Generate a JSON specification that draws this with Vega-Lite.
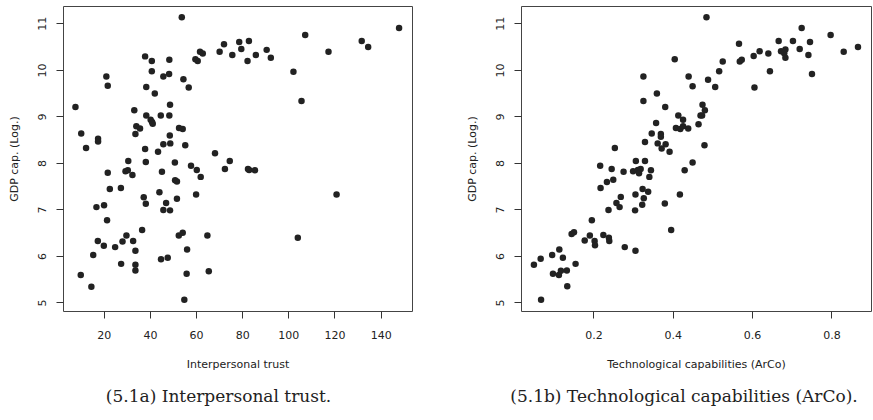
{
  "$schema": "https://vega.github.io/schema/vega-lite/v6.json",
  "background": "white",
  "padding": {"left": 7, "top": 5, "right": 3, "bottom": 0},
  "bounds": "flush",
  "spacing": 109,
  "config": {
    "view": {"stroke": "#444", "strokeWidth": 1},
    "axis": {"grid": false, "domain": false, "tickSize": 7, "tickColor": "#333", "tickWidth": 1,
      "labelFont": "DejaVu Sans", "labelFontSize": 11, "labelColor": "#222", "labelFlush": false, "labelOverlap": false,
      "titleFont": "DejaVu Sans", "titleFontSize": 11, "titleFontWeight": "normal", "titleColor": "#222"},
    "title": {"font": "DejaVu Serif", "fontSize": 17, "fontWeight": "normal", "color": "#222"}
  },
  "datasets": {
    "trust": [
      {"trust": 7.7, "gdp": 9.20}, {"trust": 10.2, "gdp": 8.63}, {"trust": 12.3, "gdp": 8.32}, {"trust": 17.5, "gdp": 8.52},
      {"trust": 17.5, "gdp": 8.46}, {"trust": 21.1, "gdp": 9.86}, {"trust": 21.7, "gdp": 9.66}, {"trust": 30.6, "gdp": 8.04},
      {"trust": 37.9, "gdp": 10.29}, {"trust": 40.8, "gdp": 10.19}, {"trust": 40.8, "gdp": 9.97}, {"trust": 38.4, "gdp": 9.63},
      {"trust": 42.1, "gdp": 9.49}, {"trust": 33.2, "gdp": 9.13}, {"trust": 38.4, "gdp": 9.02}, {"trust": 40.3, "gdp": 8.93},
      {"trust": 40.9, "gdp": 8.88}, {"trust": 41.2, "gdp": 8.84}, {"trust": 44.7, "gdp": 9.02}, {"trust": 48.4, "gdp": 9.02},
      {"trust": 48.7, "gdp": 9.25}, {"trust": 48.4, "gdp": 10.22}, {"trust": 48.3, "gdp": 9.91}, {"trust": 45.8, "gdp": 9.86},
      {"trust": 53.8, "gdp": 11.13}, {"trust": 54.5, "gdp": 9.80}, {"trust": 56.8, "gdp": 9.62}, {"trust": 34.1, "gdp": 8.79},
      {"trust": 35.7, "gdp": 8.74}, {"trust": 33.7, "gdp": 8.62}, {"trust": 37.9, "gdp": 8.30}, {"trust": 43.5, "gdp": 8.24},
      {"trust": 45.8, "gdp": 8.40}, {"trust": 48.6, "gdp": 8.59}, {"trust": 48.8, "gdp": 8.42}, {"trust": 52.6, "gdp": 8.75},
      {"trust": 54.2, "gdp": 8.73}, {"trust": 55.3, "gdp": 8.38}, {"trust": 59.7, "gdp": 10.23}, {"trust": 60.7, "gdp": 10.19},
      {"trust": 61.7, "gdp": 10.39}, {"trust": 62.9, "gdp": 10.35}, {"trust": 70.2, "gdp": 10.39}, {"trust": 72.1, "gdp": 10.55},
      {"trust": 75.7, "gdp": 10.32}, {"trust": 78.7, "gdp": 10.60}, {"trust": 79.6, "gdp": 10.45}, {"trust": 82.9, "gdp": 10.62},
      {"trust": 82.3, "gdp": 10.19}, {"trust": 85.9, "gdp": 10.32}, {"trust": 90.6, "gdp": 10.43}, {"trust": 92.4, "gdp": 10.26},
      {"trust": 102.2, "gdp": 9.96}, {"trust": 105.7, "gdp": 9.33}, {"trust": 107.3, "gdp": 10.75}, {"trust": 117.4, "gdp": 10.39},
      {"trust": 131.8, "gdp": 10.62}, {"trust": 134.6, "gdp": 10.49}, {"trust": 148.0, "gdp": 10.90}, {"trust": 68.2, "gdp": 8.21},
      {"trust": 74.6, "gdp": 8.04}, {"trust": 38.2, "gdp": 8.02}, {"trust": 50.8, "gdp": 8.01}, {"trust": 57.8, "gdp": 7.94},
      {"trust": 60.3, "gdp": 7.85}, {"trust": 62.0, "gdp": 7.70}, {"trust": 72.5, "gdp": 7.87}, {"trust": 82.5, "gdp": 7.87},
      {"trust": 83.0, "gdp": 7.85}, {"trust": 85.5, "gdp": 7.84}, {"trust": 21.7, "gdp": 7.79}, {"trust": 29.4, "gdp": 7.82},
      {"trust": 30.4, "gdp": 7.84}, {"trust": 32.4, "gdp": 7.74}, {"trust": 45.2, "gdp": 7.81}, {"trust": 50.9, "gdp": 7.63},
      {"trust": 51.7, "gdp": 7.60}, {"trust": 22.6, "gdp": 7.44}, {"trust": 27.4, "gdp": 7.46}, {"trust": 44.1, "gdp": 7.37},
      {"trust": 60.0, "gdp": 7.32}, {"trust": 120.9, "gdp": 7.32}, {"trust": 37.3, "gdp": 7.26}, {"trust": 38.2, "gdp": 7.12},
      {"trust": 51.7, "gdp": 7.23}, {"trust": 47.0, "gdp": 7.14}, {"trust": 45.8, "gdp": 6.99}, {"trust": 48.7, "gdp": 6.98},
      {"trust": 16.8, "gdp": 7.05}, {"trust": 20.1, "gdp": 7.09}, {"trust": 21.4, "gdp": 6.77}, {"trust": 36.6, "gdp": 6.56},
      {"trust": 17.4, "gdp": 6.32}, {"trust": 20.0, "gdp": 6.22}, {"trust": 24.9, "gdp": 6.19}, {"trust": 29.8, "gdp": 6.44},
      {"trust": 28.1, "gdp": 6.31}, {"trust": 32.7, "gdp": 6.32}, {"trust": 33.7, "gdp": 6.11}, {"trust": 15.4, "gdp": 6.02},
      {"trust": 27.5, "gdp": 5.83}, {"trust": 33.7, "gdp": 5.81}, {"trust": 33.7, "gdp": 5.69}, {"trust": 10.0, "gdp": 5.59},
      {"trust": 14.6, "gdp": 5.34}, {"trust": 44.8, "gdp": 5.93}, {"trust": 47.7, "gdp": 5.96}, {"trust": 52.5, "gdp": 6.44},
      {"trust": 54.2, "gdp": 6.50}, {"trust": 56.1, "gdp": 6.14}, {"trust": 55.9, "gdp": 5.62}, {"trust": 54.9, "gdp": 5.06},
      {"trust": 64.9, "gdp": 6.44}, {"trust": 65.5, "gdp": 5.67}, {"trust": 104.1, "gdp": 6.39}
    ],
    "tech": [
      {"arco": 0.485, "gdp": 11.13}, {"arco": 0.405, "gdp": 10.23}, {"arco": 0.326, "gdp": 9.86}, {"arco": 0.440, "gdp": 9.86},
      {"arco": 0.450, "gdp": 9.65}, {"arco": 0.489, "gdp": 9.79}, {"arco": 0.507, "gdp": 9.63}, {"arco": 0.517, "gdp": 9.97},
      {"arco": 0.526, "gdp": 10.18}, {"arco": 0.567, "gdp": 10.56}, {"arco": 0.569, "gdp": 10.18}, {"arco": 0.574, "gdp": 10.22},
      {"arco": 0.604, "gdp": 10.30}, {"arco": 0.606, "gdp": 9.62}, {"arco": 0.619, "gdp": 10.40}, {"arco": 0.641, "gdp": 10.35},
      {"arco": 0.645, "gdp": 9.97}, {"arco": 0.667, "gdp": 10.62}, {"arco": 0.673, "gdp": 10.40}, {"arco": 0.681, "gdp": 10.36},
      {"arco": 0.684, "gdp": 10.44}, {"arco": 0.684, "gdp": 10.26}, {"arco": 0.703, "gdp": 10.62}, {"arco": 0.720, "gdp": 10.45},
      {"arco": 0.725, "gdp": 10.90}, {"arco": 0.742, "gdp": 10.32}, {"arco": 0.746, "gdp": 10.60}, {"arco": 0.751, "gdp": 9.91},
      {"arco": 0.798, "gdp": 10.75}, {"arco": 0.831, "gdp": 10.39}, {"arco": 0.867, "gdp": 10.49}, {"arco": 0.326, "gdp": 9.33},
      {"arco": 0.360, "gdp": 9.49}, {"arco": 0.381, "gdp": 9.20}, {"arco": 0.414, "gdp": 9.02}, {"arco": 0.426, "gdp": 8.93},
      {"arco": 0.475, "gdp": 9.25}, {"arco": 0.481, "gdp": 9.13}, {"arco": 0.470, "gdp": 9.02}, {"arco": 0.474, "gdp": 9.02},
      {"arco": 0.465, "gdp": 8.83}, {"arco": 0.439, "gdp": 8.74}, {"arco": 0.480, "gdp": 8.38}, {"arco": 0.408, "gdp": 8.75},
      {"arco": 0.419, "gdp": 8.73}, {"arco": 0.426, "gdp": 8.79}, {"arco": 0.358, "gdp": 8.86}, {"arco": 0.347, "gdp": 8.63},
      {"arco": 0.370, "gdp": 8.62}, {"arco": 0.370, "gdp": 8.56}, {"arco": 0.362, "gdp": 8.42}, {"arco": 0.382, "gdp": 8.40},
      {"arco": 0.372, "gdp": 8.31}, {"arco": 0.392, "gdp": 8.24}, {"arco": 0.330, "gdp": 8.45}, {"arco": 0.254, "gdp": 8.32},
      {"arco": 0.307, "gdp": 8.04}, {"arco": 0.330, "gdp": 8.04}, {"arco": 0.450, "gdp": 8.01}, {"arco": 0.217, "gdp": 7.94},
      {"arco": 0.246, "gdp": 7.87}, {"arco": 0.276, "gdp": 7.81}, {"arco": 0.300, "gdp": 7.82}, {"arco": 0.312, "gdp": 7.85},
      {"arco": 0.319, "gdp": 7.87}, {"arco": 0.315, "gdp": 7.78}, {"arco": 0.345, "gdp": 7.84}, {"arco": 0.341, "gdp": 7.70},
      {"arco": 0.430, "gdp": 7.84}, {"arco": 0.234, "gdp": 7.59}, {"arco": 0.250, "gdp": 7.64}, {"arco": 0.218, "gdp": 7.46},
      {"arco": 0.269, "gdp": 7.27}, {"arco": 0.258, "gdp": 7.14}, {"arco": 0.266, "gdp": 7.05}, {"arco": 0.306, "gdp": 7.32},
      {"arco": 0.324, "gdp": 7.44}, {"arco": 0.338, "gdp": 7.38}, {"arco": 0.327, "gdp": 7.24}, {"arco": 0.323, "gdp": 7.10},
      {"arco": 0.305, "gdp": 6.98}, {"arco": 0.238, "gdp": 6.99}, {"arco": 0.380, "gdp": 7.13}, {"arco": 0.418, "gdp": 7.32},
      {"arco": 0.196, "gdp": 6.77}, {"arco": 0.396, "gdp": 6.56}, {"arco": 0.145, "gdp": 6.47}, {"arco": 0.151, "gdp": 6.51},
      {"arco": 0.178, "gdp": 6.33}, {"arco": 0.191, "gdp": 6.44}, {"arco": 0.203, "gdp": 6.32}, {"arco": 0.204, "gdp": 6.23},
      {"arco": 0.225, "gdp": 6.45}, {"arco": 0.239, "gdp": 6.39}, {"arco": 0.240, "gdp": 6.32}, {"arco": 0.279, "gdp": 6.19},
      {"arco": 0.306, "gdp": 6.11}, {"arco": 0.114, "gdp": 6.14}, {"arco": 0.096, "gdp": 6.02}, {"arco": 0.123, "gdp": 5.96},
      {"arco": 0.067, "gdp": 5.94}, {"arco": 0.050, "gdp": 5.81}, {"arco": 0.155, "gdp": 5.83}, {"arco": 0.098, "gdp": 5.62},
      {"arco": 0.113, "gdp": 5.59}, {"arco": 0.118, "gdp": 5.68}, {"arco": 0.133, "gdp": 5.69}, {"arco": 0.134, "gdp": 5.35},
      {"arco": 0.068, "gdp": 5.06}
    ]
  },
  "hconcat": [
    {
      "width": 349,
      "height": 305,
      "title": {"text": "(5.1a) Interpersonal trust.", "orient": "bottom", "anchor": "middle", "dx": -19, "offset": 20},
      "data": {"name": "trust"},
      "mark": {"type": "circle", "size": 42, "opacity": 1, "color": "#222"},
      "encoding": {
        "x": {"field": "trust", "type": "quantitative",
          "scale": {"domain": [2.3, 153.6], "nice": false, "zero": false},
          "axis": {"values": [20, 40, 60, 80, 100, 120, 140], "title": "Interpersonal trust",
            "labelPadding": 20, "labelBaseline": "alphabetic", "titleY": 56, "titleBaseline": "alphabetic"}},
        "y": {"field": "gdp", "type": "quantitative",
          "scale": {"domain": [4.817, 11.373], "nice": false, "zero": false},
          "axis": {"values": [5, 6, 7, 8, 9, 10, 11], "title": "GDP cap. (Log.)",
            "labelAngle": 270, "labelAlign": "center", "labelBaseline": "alphabetic", "labelPadding": 11,
            "titleX": -46, "titleY": 152.5, "titleAngle": 270, "titleAlign": "center", "titleBaseline": "alphabetic"}}
      }
    },
    {
      "width": 350,
      "height": 305,
      "title": {"text": "(5.1b) Technological capabilities (ArCo).", "orient": "bottom", "anchor": "middle", "dx": -12, "offset": 20},
      "data": {"name": "tech"},
      "mark": {"type": "circle", "size": 42, "opacity": 1, "color": "#222"},
      "encoding": {
        "x": {"field": "arco", "type": "quantitative",
          "scale": {"domain": [0.0174, 0.8998], "nice": false, "zero": false},
          "axis": {"values": [0.2, 0.4, 0.6, 0.8], "format": ".1f", "title": "Technological capabilities (ArCo)",
            "labelPadding": 20, "labelBaseline": "alphabetic", "titleY": 56, "titleBaseline": "alphabetic"}},
        "y": {"field": "gdp", "type": "quantitative",
          "scale": {"domain": [4.817, 11.373], "nice": false, "zero": false},
          "axis": {"values": [5, 6, 7, 8, 9, 10, 11], "title": "GDP cap. (Log.)",
            "labelAngle": 270, "labelAlign": "center", "labelBaseline": "alphabetic", "labelPadding": 11,
            "titleX": -46, "titleY": 152.5, "titleAngle": 270, "titleAlign": "center", "titleBaseline": "alphabetic"}}
      }
    }
  ]
}
